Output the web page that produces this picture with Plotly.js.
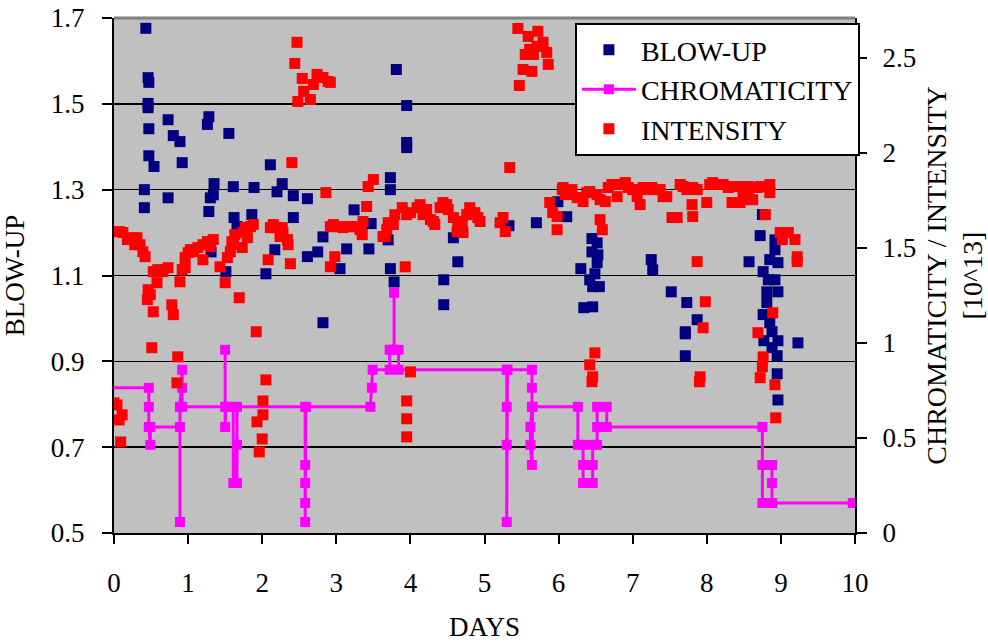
<!DOCTYPE html>
<html><head><meta charset="utf-8">
<script src="https://cdn.plot.ly/plotly-3.0.1.min.js"></script>
<style>
html,body{margin:0;padding:0;background:#fff}
#chart{position:relative;width:988px;height:642px}
</style>
</head><body><div id="chart"></div>
<script>
// BLOW-UP (left axis)
const blowDays=[0.43,0.46,0.47,0.46,0.46,0.47,0.47,0.54,0.41,0.41,0.73,0.73,0.80,0.89,0.92,1.26,1.28,1.35,1.34,1.30,1.28,1.55,1.61,1.89,2.11,2.27,2.20,2.42,2.61,2.42,1.62,1.86,1.66,1.31,2.17,2.05,1.51,2.61,2.75,2.82,2.82,3.81,3.95,3.95,3.95,3.73,3.73,3.24,3.47,3.14,3.44,3.05,3.73,3.78,4.45,4.45,4.64,4.58,3.70,5.33,5.70,5.99,6.11,6.45,6.52,6.45,6.53,6.52,6.30,6.49,6.42,6.46,6.55,6.34,6.46,7.25,7.27,7.52,7.73,7.87,7.71,7.71,7.71,8.75,8.72,8.57,8.92,8.92,8.85,8.96,8.76,8.83,8.92,8.81,8.96,8.81,8.76,8.85,8.88,8.77,8.96,8.88,8.95,8.95,8.96,9.23];
const blowVals=[1.676,1.561,1.550,1.501,1.491,1.442,1.379,1.354,1.300,1.258,1.463,1.281,1.426,1.412,1.363,1.452,1.470,1.314,1.288,1.281,1.249,1.431,1.307,1.305,1.358,1.314,1.295,1.286,1.279,1.235,1.235,1.242,1.214,1.155,1.160,1.104,1.109,1.144,1.155,1.190,0.990,1.580,1.496,1.410,1.398,1.328,1.300,1.253,1.221,1.162,1.162,1.116,1.116,1.085,1.090,1.032,1.132,1.188,1.183,1.216,1.223,1.272,1.237,1.186,1.176,1.155,1.148,1.130,1.116,1.104,1.090,1.074,1.074,1.025,1.027,1.137,1.113,1.062,1.037,0.997,0.969,0.964,0.913,1.242,1.193,1.132,1.183,1.160,1.137,1.130,1.109,1.090,1.090,1.062,1.062,1.037,1.009,0.990,0.969,0.948,0.948,0.932,0.913,0.871,0.810,0.943];

// CHROMATICITY (right axis)
const chromDays=[-0.10,0.47,0.47,0.47,0.49,0.49,0.89,0.89,0.89,0.92,0.92,0.92,1.50,1.50,1.50,1.51,1.61,1.61,1.66,1.66,1.66,2.58,2.58,2.58,2.58,2.58,2.59,3.46,3.48,3.49,3.72,3.72,3.78,3.78,3.78,3.84,3.84,5.30,5.30,5.30,5.30,5.31,5.64,5.64,5.64,5.62,5.62,5.64,5.65,6.26,6.26,6.33,6.33,6.33,6.46,6.46,6.46,6.52,6.52,6.52,6.65,6.65,8.75,8.75,8.75,8.88,8.88,8.88,8.88,9.97];
const chromVals=[0.764,0.764,0.664,0.558,0.464,0.558,0.558,0.058,0.664,0.859,0.764,0.664,0.664,0.964,0.558,0.664,0.664,0.263,0.464,0.263,0.664,0.664,0.358,0.263,0.158,0.058,0.664,0.664,0.764,0.859,0.859,0.964,0.964,1.264,0.964,0.964,0.859,0.859,0.664,0.464,0.058,0.859,0.859,0.764,0.664,0.558,0.464,0.358,0.664,0.664,0.464,0.464,0.358,0.263,0.263,0.358,0.464,0.464,0.558,0.664,0.664,0.558,0.558,0.358,0.158,0.158,0.358,0.263,0.158,0.158];

// INTENSITY [10^13] (right axis)
const intDays=[0.00,0.04,0.07,0.09,0.11,0.07,0.12,0.18,0.22,0.28,0.31,0.35,0.39,0.42,0.45,0.46,0.49,0.51,0.53,0.53,0.58,0.59,0.66,0.73,0.78,0.80,0.85,0.86,0.89,0.92,0.96,0.96,1.00,1.03,1.07,1.13,1.20,1.20,1.26,1.30,1.30,1.34,1.43,1.50,1.53,1.57,1.59,1.61,1.63,1.69,1.73,1.74,1.77,1.80,1.84,1.88,1.92,1.93,1.96,2.00,2.01,2.01,2.05,2.08,2.11,2.15,2.20,2.24,2.27,2.28,2.34,2.35,2.38,2.40,2.44,2.47,2.48,2.54,2.56,2.65,2.69,2.74,2.82,2.86,2.89,2.92,2.92,2.92,2.96,2.98,3.01,3.09,3.14,3.19,3.28,3.32,3.35,3.36,3.41,3.43,3.50,3.63,3.66,3.68,3.70,3.77,3.79,3.89,3.93,3.95,3.95,3.95,3.95,4.00,4.00,4.09,4.13,4.17,4.22,4.27,4.31,4.33,4.40,4.44,4.49,4.51,4.58,4.63,4.64,4.70,4.71,4.76,4.80,4.87,4.91,4.94,5.21,5.25,5.28,5.34,5.45,5.47,5.52,5.55,5.59,5.61,5.64,5.66,5.71,5.72,5.79,5.84,5.86,5.88,5.92,5.98,5.98,6.05,6.06,6.09,6.13,6.18,6.25,6.33,6.38,6.42,6.42,6.45,6.46,6.49,6.52,6.56,6.56,6.59,6.63,6.67,6.72,6.79,6.86,6.90,6.94,7.00,7.06,7.10,7.14,7.19,7.26,7.30,7.37,7.41,7.46,7.53,7.60,7.64,7.68,7.73,7.80,7.81,7.81,7.87,7.87,7.90,7.91,7.95,7.98,8.00,8.04,8.08,8.18,8.22,8.29,8.34,8.35,8.45,8.45,8.49,8.52,8.56,8.56,8.62,8.68,8.69,8.72,8.72,8.75,8.76,8.79,8.81,8.85,8.85,8.89,8.92,8.93,8.99,9.02,9.10,9.19,9.22,9.22];
const intVals=[0.685,0.674,0.595,0.479,0.622,1.586,1.581,1.544,1.554,1.517,1.554,1.517,1.480,1.454,1.228,1.280,1.254,0.975,1.164,1.375,1.317,1.386,1.375,1.396,1.201,1.149,0.790,0.927,1.322,1.386,1.449,1.396,1.475,1.491,1.480,1.502,1.438,1.517,1.533,1.533,1.507,1.544,1.401,1.317,1.449,1.480,1.533,1.517,1.570,1.238,1.502,1.581,1.607,1.554,1.612,1.623,1.059,0.585,0.427,0.495,0.695,0.622,0.806,1.438,1.607,1.623,1.607,1.560,1.607,1.581,1.544,1.517,1.417,1.949,2.471,2.582,2.271,2.392,2.324,2.281,2.360,2.413,2.397,1.791,2.376,2.371,1.401,1.612,1.623,1.454,1.612,1.607,1.612,1.612,1.612,1.596,1.570,1.639,1.718,1.823,1.860,1.560,1.560,1.596,1.633,1.623,1.675,1.712,1.401,0.695,0.601,0.506,1.675,0.848,1.686,1.712,1.728,1.675,1.702,1.649,1.639,1.623,1.712,1.739,1.728,1.702,1.660,1.586,1.612,1.639,1.581,1.675,1.712,1.686,1.660,1.639,1.633,1.660,1.586,1.923,2.655,2.355,2.439,2.518,2.613,2.545,2.429,2.518,2.561,2.640,2.582,2.529,2.466,1.739,1.686,1.665,1.596,1.807,1.818,1.781,1.781,1.807,1.765,1.744,1.791,1.797,0.885,0.796,0.822,0.948,1.781,1.754,1.649,1.596,1.744,1.818,1.834,1.770,1.834,1.844,1.818,1.807,1.770,1.728,1.818,1.807,1.818,1.807,1.807,1.770,1.770,1.660,1.660,1.834,1.823,1.807,1.728,1.818,1.665,1.807,1.428,0.796,0.822,1.080,1.217,1.739,1.834,1.844,1.834,1.834,1.818,1.739,1.823,1.823,1.739,1.797,1.754,1.823,1.765,1.754,1.818,1.054,0.817,1.823,0.875,0.927,1.675,1.823,1.834,1.791,1.159,0.780,0.606,1.581,1.544,1.581,1.544,1.454,1.428];

const xTickVals=[0,1,2,3,4,5,6,7,8,9,10];

const FONT='Liberation Serif';
const traces=[
  {type:'scatter',mode:'markers',name:'BLOW-UP',x:blowDays,y:blowVals,yaxis:'y',
   marker:{symbol:'square',size:11,color:'#000080'}},
  {type:'scatter',mode:'lines+markers',name:'CHROMATICITY',x:chromDays,y:chromVals,yaxis:'y2',
   line:{color:'#ff00ff',width:3},marker:{symbol:'square',size:10,color:'#ff00ff'}},
  {type:'scatter',mode:'markers',name:'INTENSITY',x:intDays,y:intVals,yaxis:'y2',
   marker:{symbol:'square',size:11,color:'#ff0000'}}
];
const layout={
  width:988,height:642,
  margin:{l:114,r:133,t:18,b:109,pad:0},
  paper_bgcolor:'#ffffff',plot_bgcolor:'#c0c0c0',
  font:{family:FONT,size:27,color:'#000'},
  showlegend:true,
  legend:{x:0.622,y:0.99,xanchor:'left',yanchor:'top',bgcolor:'#ffffff',bordercolor:'#000',borderwidth:2,
          font:{family:FONT,size:28,color:'#000'},itemwidth:54,tracegroupgap:0},
  xaxis:{range:[0,10],tickvals:xTickVals,ticks:'outside',ticklen:9,tickwidth:2,tickcolor:'#000',
         showline:true,linecolor:'#000',linewidth:2,showgrid:false,zeroline:false,
         tickfont:{family:FONT,size:27,color:'#000'},ticklabelstandoff:16,
         title:{text:'DAYS',font:{family:FONT,size:27,color:'#000'},standoff:40}},
  yaxis:{range:[0.5,1.7],dtick:0.2,tick0:0.5,ticks:'outside',ticklen:10,tickwidth:2,tickcolor:'#000',
         showline:true,linecolor:'#000',linewidth:2,showgrid:true,gridcolor:'#000',gridwidth:1.5,zeroline:false,
         tickfont:{family:FONT,size:27,color:'#000'},ticklabelstandoff:12,
         title:{text:'BLOW-UP',font:{family:FONT,size:27,color:'#000'},standoff:18}},
  yaxis2:{range:[0,2.71],dtick:0.5,tick0:0,overlaying:'y',side:'right',ticks:'outside',ticklen:10,tickwidth:2,tickcolor:'#000',
         showline:true,linecolor:'#000',linewidth:2,showgrid:false,zeroline:false,
         tickfont:{family:FONT,size:27,color:'#000'},ticklabelstandoff:10,
         title:{text:'CHROMATICITY / INTENSITY<br>[10^13]',font:{family:FONT,size:28,color:'#000'},standoff:18}},
  shapes:[{type:'line',xref:'paper',yref:'paper',x0:0,x1:1,y0:1,y1:1,line:{color:'#808080',width:3}}]
};
Plotly.newPlot('chart',traces,layout,{displayModeBar:false,staticPlot:true});
</script></body></html>
